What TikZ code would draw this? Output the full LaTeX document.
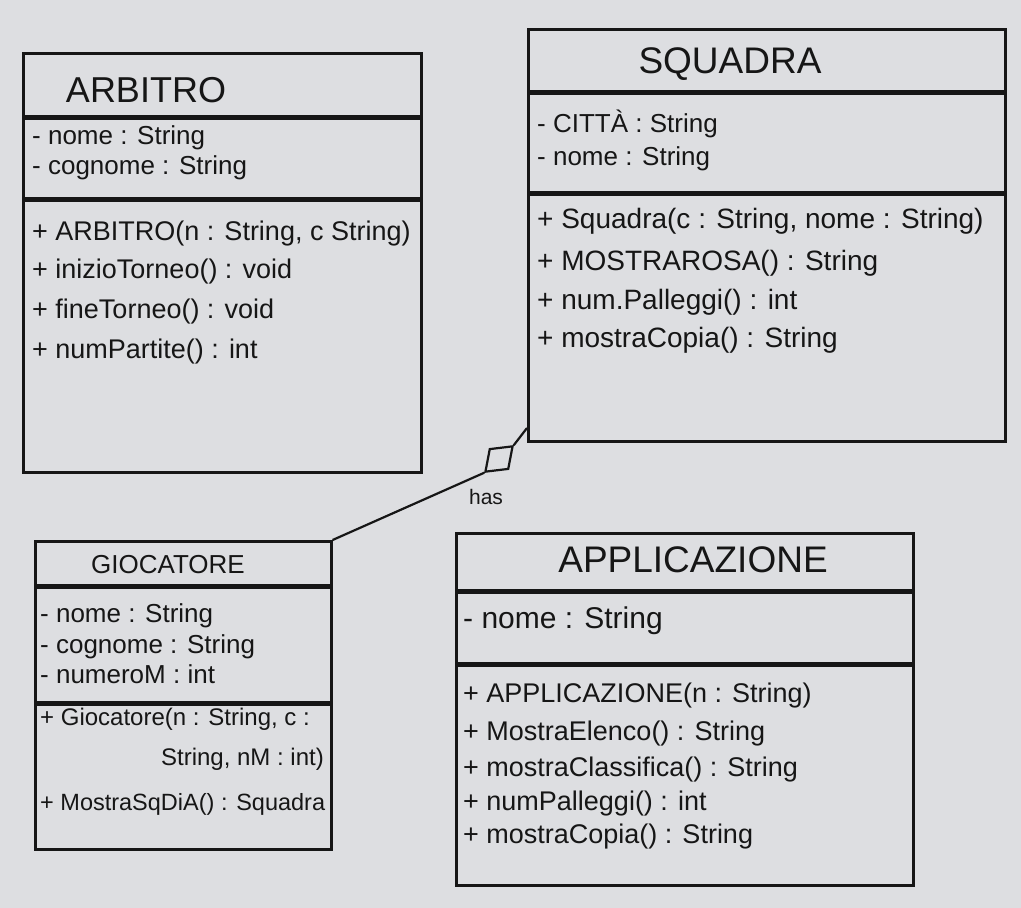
\documentclass[tikz,border=0pt]{standalone}
\usepackage{fontspec}
\setmainfont{Liberation Sans}
\usetikzlibrary{shapes.geometric}
\definecolor{bg}{RGB}{221,222,225}
\definecolor{ink}{RGB}{22,22,22}
\begin{document}
\begin{tikzpicture}[x=1pt,y=-1pt,
  comp/.style={draw=ink, line width=2.6pt, inner sep=0pt, anchor=north west},
  ttl/.style={anchor=base, inner sep=0pt, text=ink},
  ln/.style={anchor=base west, inner sep=0pt, text=ink},
  lnr/.style={anchor=base east, inner sep=0pt, text=ink},
  fs/.style={font=\fontsize{#1}{#1}\selectfont},
  agg/.style={draw=ink, line width=2.2pt, shape=diamond, inner sep=0pt,
              minimum width=38pt, minimum height=28pt, rotate=43},
  link/.style={draw=ink, line width=2.2pt},
]
\fill[bg] (0,0) rectangle (1021,908);
\useasboundingbox (0,0) rectangle (1021,908);

% ---------------- ARBITRO
\node[comp, minimum width=398pt, minimum height=63pt] (arbT) at (22,52) {};
\node[comp, minimum width=398pt, minimum height=79pt] (arbA) at (arbT.south west) {};
\node[comp, minimum width=398pt, minimum height=272pt] (arbM) at (arbA.south west) {};
\node[ttl, fs=36] (arbName) at (146,102) {ARBITRO};
\node[ln, fs=26] (arbA1) at (32,144) {- nome : String};
\node[ln, fs=26] (arbA2) at (32,174) {- cognome : String};
\node[ln, fs=27] (arbM1) at (32,240) {+ ARBITRO(n : String, c String)};
\node[ln, fs=27] (arbM2) at (32,278) {+ inizioTorneo() : void};
\node[ln, fs=27] (arbM3) at (32,318) {+ fineTorneo() : void};
\node[ln, fs=27] (arbM4) at (32,358) {+ numPartite() : int};

% ---------------- SQUADRA
\node[comp, minimum width=477pt, minimum height=62pt] (sqT) at (527,28) {};
\node[comp, minimum width=477pt, minimum height=98pt] (sqA) at (sqT.south west) {};
\node[comp, minimum width=477pt, minimum height=247pt] (sqM) at (sqA.south west) {};
\node[ttl, fs=37] (sqName) at (730,73) {SQUADRA};
\node[ln, fs=26] (sqA1) at (537,132) {- CITTÀ : String};
\node[ln, fs=26] (sqA2) at (537,165) {- nome : String};
\node[ln, fs=28] (sqM1) at (537,228) {+ Squadra(c : String, nome : String)};
\node[ln, fs=28] (sqM2) at (537,270) {+ MOSTRAROSA() : String};
\node[ln, fs=28] (sqM3) at (537,309) {+ num.Palleggi() : int};
\node[ln, fs=28] (sqM4) at (537,347) {+ mostraCopia() : String};

% ---------------- GIOCATORE
\node[comp, minimum width=296pt, minimum height=44pt] (gioT) at (34,540) {};
\node[comp, minimum width=296pt, minimum height=114pt] (gioA) at (gioT.south west) {};
\node[comp, minimum width=296pt, minimum height=145pt] (gioM) at (gioA.south west) {};
\node[ttl, fs=26] (gioName) at (168,573) {GIOCATORE};
\node[ln, fs=26] (gioA1) at (40,622) {- nome : String};
\node[ln, fs=26] (gioA2) at (40,653) {- cognome : String};
\node[ln, fs=26] (gioA3) at (40,683) {- numeroM : int};
\node[ln, fs=24] (gioM1) at (40,725) {+ Giocatore(n : String, c :};
\node[lnr, fs=24] (gioM1b) at (324,765) {String, nM : int)};
\node[ln, fs=23.5] (gioM2) at (40,810) {+ MostraSqDiA() : Squadra};

% ---------------- APPLICAZIONE
\node[comp, minimum width=457pt, minimum height=57pt] (appT) at (455,532) {};
\node[comp, minimum width=457pt, minimum height=70pt] (appA) at (appT.south west) {};
\node[comp, minimum width=457pt, minimum height=220pt] (appM) at (appA.south west) {};
\node[ttl, fs=37] (appName) at (693,572) {APPLICAZIONE};
\node[ln, fs=30] (appA1) at (463,628) {- nome : String};
\node[ln, fs=27] (appM1) at (463,702) {+ APPLICAZIONE(n : String)};
\node[ln, fs=27] (appM2) at (463,740) {+ MostraElenco() : String};
\node[ln, fs=27] (appM3) at (463,776) {+ mostraClassifica() : String};
\node[ln, fs=27] (appM4) at (463,810) {+ numPalleggi() : int};
\node[ln, fs=27] (appM5) at (463,843) {+ mostraCopia() : String};

% ---------------- aggregation "has"
\coordinate (sqHook) at (527,428);
\node[agg] (dia) at (499,459) {};
\draw[link] (gioT.north east) -- (dia.west);
\draw[link] (dia.east) -- (sqHook);
\node[ttl, fs=21] (hasLbl) at (486,504) {has};
\end{tikzpicture}
\end{document}
